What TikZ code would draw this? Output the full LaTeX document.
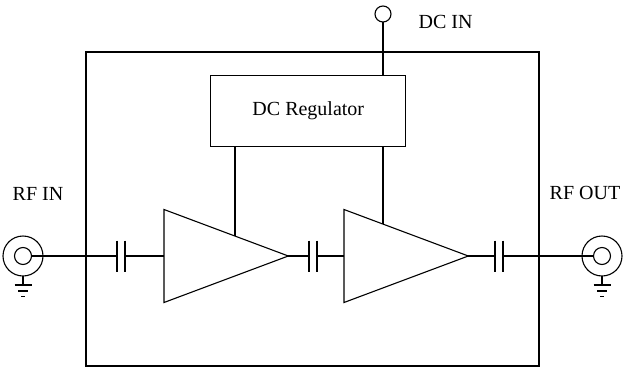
\documentclass[tikz,border=0pt]{standalone}
\usepackage{fontspec}
\setmainfont{Liberation Serif}
\usetikzlibrary{calc}
\begin{document}
\begin{tikzpicture}[x=1pt,y=-1pt, line width=1.1pt,
  lbl/.style={font=\fontsize{20}{24}\selectfont, inner sep=0pt, anchor=base},
  term/.style={circle, draw, inner sep=0pt, outer sep=0pt},
  blk/.style={draw, inner sep=0pt, outer sep=0pt},
  cap/.pic={\draw (-4,-15.5) -- (-4,15.5); \draw (4,-15.5) -- (4,15.5);
            \coordinate (-l) at (-4,0); \coordinate (-r) at (4,0);},
  gnd/.pic={\draw (0,0) -- (0,9); \draw (-8.5,9) -- (8.5,9);
            \draw (-5,15) -- (5,15); \draw (-2,20.5) -- (2,20.5);}]
\useasboundingbox (0,0) rectangle (626,367);

% enclosure and regulator
\node[blk, anchor=north west, minimum width=453pt, minimum height=314pt] (box) at (86,52) {};
\node[blk, minimum width=195pt, minimum height=71pt, font=\fontsize{20}{24}\selectfont] (reg) at (308.3,111.2) {DC Regulator};

% DC input
\node[term, minimum size=16pt] (dcin) at (383,14) {};
\node[lbl] (dcinl) at (445.5,28.3) {DC IN};
\draw (dcin.south) -- (dcin.south |- reg.north);

% RF connectors
\node[term, minimum size=40pt] (jL) at (23,256) {};
\node[term, minimum size=17pt] (jLi) at (23,256) {};
\pic at (jL.south) {gnd};
\node[lbl] (rfin) at (38,200) {RF IN};

\node[term, minimum size=40pt] (jR) at (602,256) {};
\node[term, minimum size=17pt] (jRi) at (602,256) {};
\pic at (jR.south) {gnd};
\node[lbl] (rfout) at (585,199.5) {RF OUT};

% amplifiers
\coordinate (a1top) at (164,209.5); \coordinate (a1bot) at (164,302.5);
\coordinate (a1out) at (288.3,256); \coordinate (a1in) at (164,256);
\draw (a1top) -- (a1out) -- (a1bot) -- cycle;
\coordinate (a2top) at (344,209.5); \coordinate (a2bot) at (344,302.5);
\coordinate (a2out) at (468.3,256); \coordinate (a2in) at (344,256);
\draw (a2top) -- (a2out) -- (a2bot) -- cycle;

% capacitors
\pic (c1) at (121,256) {cap};
\pic (c2) at (313,256) {cap};
\pic (c3) at (499,256) {cap};

% signal path
\draw (jLi.east) -- (c1-l);
\draw (c1-r) -- (a1in);
\draw (a1out) -- (c2-l);
\draw (c2-r) -- (a2in);
\draw (a2out) -- (c3-l);
\draw (c3-r) -- (jRi.west);

% supply lines
\coordinate (s1) at (235,0); \coordinate (s1b) at (235,400);
\coordinate (s2) at (383,0); \coordinate (s2b) at (383,400);
\draw (s1 |- reg.south) -- (intersection of a1top--a1out and s1--s1b);
\draw (s2 |- reg.south) -- (intersection of a2top--a2out and s2--s2b);
\end{tikzpicture}
\end{document}
